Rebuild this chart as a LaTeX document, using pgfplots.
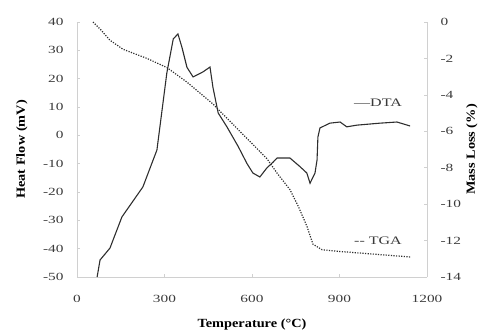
\documentclass[border=0pt]{standalone}
\usepackage{pgfplots}
\pgfplotsset{compat=1.18}
\usepackage{fontspec}
\setmainfont{Liberation Serif}
\newfontfamily\widefont{Liberation Serif}[FakeStretch=1.4]
\newfontfamily\labelfont{Liberation Serif}[FakeStretch=1.15]

\definecolor{axisgray}{HTML}{D0D0D0}
\definecolor{curve}{HTML}{2E2E2E}
\definecolor{ticktext}{HTML}{3A3A3A}

% DTA heat flow (mV) against temperature
\pgfplotstableread{
T     hf
69   -50
79   -44
113  -39.8
154  -28.8
226  -18.2
261  -8.7
274  -5.2
308   22
330   34
346   35.8
360   31
377   24
398   20.6
432   22.4
456   24.1
466   17
484   7.9
514   3
553  -4
583  -10
603  -13.3
627  -14.7
651  -11.5
672  -9.5
686  -8
730  -8
764  -11
788  -13.3
799  -16.9
816  -13.3
823  -8.7
826  -0.6
833   2.6
867   4.3
902   4.7
925   3
960   3.6
1039  4.3
1097  4.7
1142  3.3
}\dta

% TGA mass loss (%) against temperature
\pgfplotstableread{
T     ml
55    0
80   -0.4
113  -1.0
158  -1.5
240  -2.0
308  -2.5
377  -3.3
466  -4.5
583  -6.4
651  -7.5
686  -8.3
730  -9.2
758  -10.1
788  -11.2
809  -12.2
840  -12.5
902  -12.6
1142 -12.9
}\tga

\begin{document}
\begin{tikzpicture}[font=\fontsize{12}{14}\selectfont]
\path[use as bounding box] (-77bp,-58bp) rectangle (415bp,277bp);
\begin{axis}[
  scale only axis, width=350bp, height=255bp,
  xmin=0, xmax=1200, ymin=-50, ymax=40,
  axis x line*=bottom, axis y line*=left,
  axis line style={axisgray, line width=0.8pt, -},
  xtick={0,300,...,1200}, ytick={-50,-40,...,40},
  tick style={axisgray, line width=0.6pt},
  major tick length=3bp,
  tick label style={ticktext, font=\widefont\fontsize{11}{13}\selectfont},
  /pgf/number format/assume math mode=true,
  /pgf/number format/set thousands separator={},
  xticklabel style={yshift=-15bp},
  yticklabel style={xshift=-10bp},
  xlabel={\textbf{Temperature (°C)}},
  ylabel={\textbf{Heat Flow (mV)}},
  label style={font=\labelfont\fontsize{12.5}{14}\selectfont},
  xlabel style={at={(axis description cs:0.5,0)}, anchor=center, yshift=-48bp},
  ylabel style={at={(axis description cs:0,0.5)}, anchor=center, yshift=55bp},
  clip=false,
]
\addplot[curve, line width=1.1pt] table[x=T, y=hf] {\dta};
\node[ticktext, anchor=center, font=\widefont\fontsize{11.5}{13}\selectfont] at (axis cs:1032,11.4) {—DTA};
\end{axis}
\begin{axis}[
  scale only axis, width=350bp, height=255bp,
  xmin=0, xmax=1200, ymin=-14, ymax=0,
  axis x line=none, axis y line*=right,
  axis line style={axisgray, line width=0.8pt, -},
  ytick={-14,-12,...,0},
  tick style={axisgray, line width=0.6pt},
  major tick length=3bp,
  tick label style={ticktext, font=\widefont\fontsize{11}{13}\selectfont},
  /pgf/number format/assume math mode=true,
  yticklabel style={xshift=10bp},
  ylabel={\textbf{Mass Loss (\%)}},
  label style={font=\labelfont\fontsize{12.5}{14}\selectfont},
  ylabel style={at={(axis description cs:1,0.5)}, anchor=center, rotate=0, yshift=-45bp},
  clip=false,
]
\addplot[curve, line width=1.2pt, dash pattern=on 1.2pt off 1.4pt] table[x=T, y=ml] {\tga};
\node[ticktext, anchor=center, font=\widefont\fontsize{11.5}{13}\selectfont] at (axis cs:1032,-12.0) {-{}- TGA};
\end{axis}
\end{tikzpicture}
\end{document}
